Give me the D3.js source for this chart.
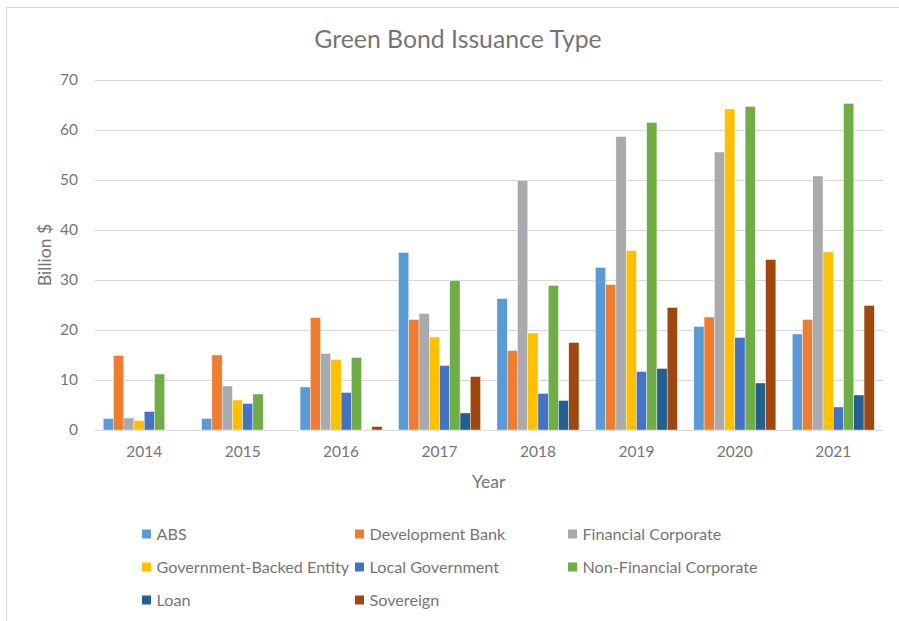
<!DOCTYPE html>
<html>
<head>
<meta charset="utf-8">
<script src="https://cdn.jsdelivr.net/npm/d3@7"></script>
<style>
  body { margin: 0; background: #fff; }
  text { font-family: Lato, "Open Sans", sans-serif; fill: #757575; }
</style>
</head>
<body>
<div id="chart"></div>
<script>
var years = ['2014', '2015', '2016', '2017', '2018', '2019', '2020', '2021'];
var seriesNames = ['ABS', 'Development Bank', 'Financial Corporate', 'Government-Backed Entity',
                   'Local Government', 'Non-Financial Corporate', 'Loan', 'Sovereign'];
var colors = ['#5b9bd5', '#ed7d31', '#a9aaad', '#ffc000', '#4472c4', '#70ad47', '#255e91', '#9e480e'];

// values per series, one per year
var abs        = [2.3, 2.3, 8.6, 35.5, 26.3, 32.5, 20.7, 19.2];
var devBank    = [14.9, 15.0, 22.5, 22.1, 15.9, 29.1, 22.6, 22.1];
var finCorp    = [2.4, 8.8, 15.3, 23.3, 49.9, 58.7, 55.6, 50.8];
var govBacked  = [1.9, 6.0, 14.1, 18.6, 19.4, 35.9, 64.2, 35.6];
var localGov   = [3.7, 5.3, 7.5, 12.9, 7.3, 11.7, 18.5, 4.6];
var nonFinCorp = [11.2, 7.2, 14.5, 29.9, 28.9, 61.5, 64.7, 65.3];
var loan       = [0, 0, 0, 3.4, 5.9, 12.3, 9.4, 7.0];
var sovereign  = [0, 0, 0.7, 10.7, 17.5, 24.5, 34.1, 24.9];
var yTicks = [0, 10, 20, 30, 40, 50, 60, 70];

var allValues = [abs, devBank, finCorp, govBacked, localGov, nonFinCorp, loan, sovereign];

var width = 899, height = 621;
var plot = {left: 95, right: 882.5, top: 80, bottom: 430};

var svg = d3.select('#chart').append('svg')
    .attr('width', width)
    .attr('height', height);

// chart border (only left and top edges fall inside the picture)
svg.append('rect')
    .attr('x', 6.5).attr('y', 7.5)
    .attr('width', 900).attr('height', 620)
    .attr('fill', 'none')
    .attr('stroke', '#d9d9d9');

var x = d3.scaleBand()
    .domain(years)
    .range([plot.left, plot.right])
    .paddingInner(0.1667)
    .paddingOuter(0.0833);

var xInner = d3.scaleBand()
    .domain(seriesNames)
    .range([0, x.bandwidth()]);

var y = d3.scaleLinear()
    .domain([0, 70])
    .range([plot.bottom, plot.top]);

// gridlines + y labels
svg.append('g')
    .attr('class', 'grid')
    .selectAll('line')
    .data(yTicks)
    .enter().append('line')
    .attr('x1', plot.left).attr('x2', plot.right)
    .attr('y1', function(d) { return Math.round(y(d)) + 0.5; })
    .attr('y2', function(d) { return Math.round(y(d)) + 0.5; })
    .attr('stroke', '#d9d9d9')
    .attr('stroke-width', 1);

var yAxis = svg.append('g')
    .attr('transform', 'translate(' + 78 + ',0)')
    .call(d3.axisLeft(y).tickValues(yTicks).tickSize(0).tickPadding(0));
yAxis.select('.domain').remove();
yAxis.selectAll('text')
    .attr('font-size', 15.5)
    .attr('font-family', 'Lato, sans-serif')
    .attr('fill', '#757575');

var xAxis = svg.append('g')
    .attr('transform', 'translate(0,' + plot.bottom + ')')
    .call(d3.axisBottom(x).tickSize(0).tickPadding(16));
xAxis.select('.domain').remove();
xAxis.selectAll('text')
    .attr('font-size', 15.5)
    .attr('font-family', 'Lato, sans-serif')
    .attr('fill', '#757575');

// bars
var groups = svg.append('g').selectAll('g')
    .data(seriesNames)
    .enter().append('g')
    .attr('fill', function(d, i) { return colors[i]; });

groups.selectAll('rect')
    .data(function(d, i) {
      return years.map(function(yr, j) { return {year: yr, series: d, value: allValues[i][j]}; });
    })
    .enter().append('rect')
    .attr('x', function(d) { return x(d.year) + xInner(d.series); })
    .attr('width', xInner.bandwidth())
    .attr('y', function(d) { return y(d.value); })
    .attr('height', function(d) { return y(0) - y(d.value); })
    .attr('stroke', '#fff')
    .attr('stroke-width', 0.4);

// title and axis titles
svg.append('text')
    .attr('x', 458).attr('y', 48)
    .attr('text-anchor', 'middle')
    .attr('font-size', 24.8)
    .text('Green Bond Issuance Type');

svg.append('text')
    .attr('x', (plot.left + plot.right) / 2).attr('y', 488)
    .attr('text-anchor', 'middle')
    .attr('font-size', 17.5)
    .text('Year');

svg.append('text')
    .attr('transform', 'translate(51,' + (plot.top + plot.bottom) / 2 + ') rotate(-90)')
    .attr('text-anchor', 'middle')
    .attr('font-size', 17.5)
    .text('Billion $');

// legend: 3 columns
var legendCols = [142, 355, 568];
var legendRows = [534, 567, 600];
var legend = svg.append('g').selectAll('g')
    .data(seriesNames)
    .enter().append('g')
    .attr('transform', function(d, i) {
      return 'translate(' + legendCols[i % 3] + ',' + legendRows[Math.floor(i / 3)] + ')';
    });

legend.append('rect')
    .attr('x', 0).attr('y', -4.5)
    .attr('width', 9).attr('height', 9)
    .attr('fill', function(d, i) { return colors[i]; });

legend.append('text')
    .attr('x', 14.5).attr('y', 5.5)
    .attr('font-size', 16.2)
    .text(function(d) { return d; });
</script>
</body>
</html>
